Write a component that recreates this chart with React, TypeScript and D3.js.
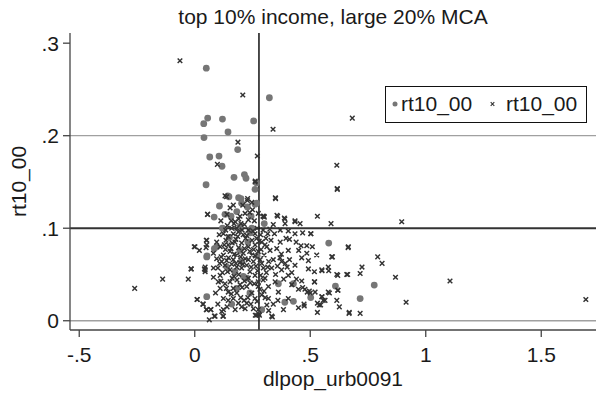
import React from "react";
import * as d3 from "d3";

const titleText = "top 10% income, large 20% MCA";
const xLabel = "dlpop_urb0091";
const yLabel = "rt10_00";
const legendLabels = ["rt10_00", "rt10_00"];
const xTicks = [-0.5, 0, 0.5, 1, 1.5];
const xTickLabels = ["-.5", "0", ".5", "1", "1.5"];
const yTicks = [0, 0.1, 0.2, 0.3];
const yTickLabels = ["0", ".1", ".2", ".3"];
const xRefLine = 0.278;
const yRefLines = [0, 0.1, 0.2];

// series 1: circles [dlpop_urb0091, rt10_00]
const circlePoints: [number, number][] = [
  [0.05,0.273],[0.323,0.241],[0.056,0.219],[0.12,0.218],[0.255,0.216],[0.039,0.213],[0.144,0.204],[0.04,0.198],
  [0.186,0.185],[0.065,0.177],[0.105,0.178],[0.118,0.167],[0.215,0.158],[0.222,0.154],[0.17,0.155],[0.049,0.147],
  [0.261,0.142],[0.148,0.134],[0.19,0.133],[0.2,0.132],[0.268,0.149],[0.143,0.135],[0.107,0.124],[0.203,0.127],
  [0.228,0.123],[0.261,0.126],[0.084,0.112],[0.157,0.113],[0.182,0.118],[0.244,0.113],[0.131,0.115],[0.247,0.1],
  [0.196,0.102],[0.085,0.078],[0.268,0.127],[0.301,0.105],[0.053,0.07],[0.095,0.08],[0.139,0.058],[0.174,0.053],
  [0.052,0.026],[0.182,0.035],[0.239,0.03],[0.16,0.018],[0.21,0.048],[0.427,0.021],[0.427,0.04],[0.24,0.095],
  [0.196,0.076],[0.58,0.084],[0.609,0.0375],[0.777,0.0386],[0.716,0.024],[0.502,0.025],[0.39,0.02],[0.362,0.04],
  [0.29,0.012],[0.203,0.064],[0.225,0.046],[0.052,0.069],[0.15,0.09],[0.23,0.085],[0.12,0.1],[0.27,0.07]
];

// series 2: crosses [dlpop_urb0091, rt10_00]
const crossPoints: [number, number][] = [
  [-0.064,0.281],[0.208,0.244],[0.339,0.207],[0.187,0.193],[0.271,0.178],[0.098,0.169],[0.262,0.151],[0.349,0.133],
  [0.138,0.134],[0.229,0.132],[0.682,0.219],[0.615,0.168],[0.617,0.142],[0.531,0.113],[0.59,0.105],[0.896,0.107],
  [0.467,0.095],[0.502,0.094],[0.665,0.08],[0.792,0.069],[0.811,0.062],[0.596,0.069],[0.528,0.071],[0.724,0.058],
  [0.716,0.051],[0.662,0.05],[0.615,0.05],[0.58,0.054],[0.551,0.054],[0.518,0.053],[0.869,0.047],[1.105,0.043],
  [0.519,0.042],[0.62,0.033],[0.583,0.03],[0.551,0.026],[0.556,0.022],[0.615,0.022],[0.626,0.015],[0.545,0.017],
  [0.531,0.019],[0.915,0.02],[1.693,0.023],[0.531,0.009],[0.669,0.009],[0.716,0.008],[0.467,0.036],[0.487,0.031],
  [0.473,0.018],[0.5,0.03],
  [-0.26,0.035],[-0.139,0.045],[-0.028,0.045],[-0.015,0.056],[-0.002,0.08],[0.02,0.076],[0.056,0.115],[0.01,0.023],
  [0.035,0.018],[0.05,0.012],[0.069,0.012],[0.063,0.001],[0.085,0.005],[0.117,0.01],[0.122,0.005],[0.042,0.056],
  [0.045,0.053],[0.049,0.079],[0.05,0.087],[0.081,0.057],[0.106,0.093],[0.262,0.006],[0.28,0.006],[0.336,0.004],
  [0.35,0.132],[0.617,0.143],[0.301,0.112],[0.359,0.113],[0.388,0.111],[0.391,0.105],[0.434,0.108],[0.456,0.105],
  [0.405,0.097],[0.434,0.094],[0.503,0.094],[0.395,0.089],[0.439,0.085],[0.46,0.081],[0.485,0.081],
  [0.509,0.08],[0.664,0.079],[0.405,0.076],[0.45,0.076],[0.485,0.073],[0.593,0.069],[0.369,0.068],
  [0.316,0.094],[0.33,0.087],[0.304,0.082],[0.326,0.076],[0.296,0.113],[0.356,0.114],[0.39,0.11],
  [0.41,0.066],[0.434,0.06],[0.463,0.068],[0.492,0.065],[0.492,0.056],[0.55,0.055],[0.578,0.058],
  [0.619,0.049],[0.658,0.05],[0.518,0.042],[0.463,0.043],[0.449,0.034],[0.477,0.034],[0.496,0.032],[0.521,0.031],
  [0.55,0.026],[0.564,0.022],[0.578,0.031],[0.619,0.033],[0.539,0.017],[0.668,0.008],[0.474,0.016],
  [0.449,0.014],[0.384,0.012],[0.34,0.018],[0.333,0.005],[0.278,0.007],[0.405,0.024],[0.362,0.031],[0.319,0.024],
  [0.29,0.028],[0.405,0.049],[0.376,0.055],[0.333,0.057],[0.304,0.046],[0.348,0.042],[0.319,0.037],[0.275,0.037],
  [0.42,0.039],[0.376,0.064],
  [0.131,0.135],[0.055,0.115],[0.113,0.108],[0.153,0.122],[0.167,0.125],[0.208,0.125],[0.228,0.13],[0.247,0.128],
  [0.261,0.15],[0.275,0.116],[0.3,0.113],[0.218,0.116],[0.232,0.109],[0.17,0.105],[0.141,0.103],[0.124,0.094],
  [0.145,0.091],[0.167,0.094],[0.189,0.096],[0.21,0.093],[0.232,0.098],[0.261,0.094],[0.268,0.089],[0.052,0.087],
  [0.052,0.082],[0.001,0.08],[0.095,0.085],[0.11,0.08],[0.145,0.082],[0.174,0.085],[0.203,0.084],
  [0.232,0.08],[0.261,0.082],[0.29,0.085],[0.312,0.08],[0.153,0.075],[0.182,0.071],[0.21,0.073],[0.247,0.071],
  [0.275,0.075],[0.124,0.071],[0.081,0.073],
  [-0.016,0.056],[0.045,0.055],[0.045,0.058],[0.011,0.023],[0.037,0.018],[0.052,0.012],[0.07,0.012],[0.088,0.005],
  [0.124,0.012],[0.124,0.005],[0.081,0.047],[0.102,0.042],[0.11,0.035],[0.131,0.04],[0.153,0.042],
  [0.124,0.024],[0.145,0.022],[0.167,0.024],[0.189,0.019],[0.203,0.015],[0.225,0.019],[0.218,0.013],[0.254,0.013],
  [0.275,0.012],[0.268,0.006],[0.261,0.024],[0.247,0.03],[0.182,0.03],[0.145,0.031],[0.11,0.049],[0.131,0.06],
  [0.153,0.055],[0.182,0.058],[0.203,0.057],[0.225,0.06],[0.239,0.053],[0.261,0.049],[0.275,0.042],[0.225,0.037],
  [0.196,0.039],[0.167,0.035],[0.095,0.067],[0.117,0.064],[0.167,0.066],[0.218,0.067],[0.254,0.064],[0.283,0.066],
  [0.297,0.057],[0.312,0.017],
  [0.296,0.113],[0.434,0.107],[0.14,0.115],[0.19,0.11],[0.25,0.12],[0.16,0.1],[0.2,0.105],[0.27,0.1],
  [0.135,0.087],[0.178,0.088],[0.22,0.089],[0.248,0.087],[0.285,0.093],[0.157,0.078],[0.19,0.079],[0.215,0.078],
  [0.255,0.077],[0.3,0.071],[0.138,0.065],[0.16,0.061],[0.195,0.063],[0.232,0.066],[0.265,0.059],[0.29,0.062],
  [0.1,0.057],[0.12,0.052],[0.17,0.048],[0.19,0.05],[0.215,0.043],[0.24,0.041],[0.285,0.049],[0.31,0.052],
  [0.34,0.066],[0.355,0.078],[0.345,0.094],[0.37,0.085],[0.32,0.064],[0.35,0.05],[0.385,0.045],[0.4,0.058],
  [0.09,0.03],[0.1,0.018],[0.14,0.015],[0.175,0.012],[0.23,0.025],[0.3,0.032],[0.32,0.011],[0.36,0.022],
  [0.128,0.082],[0.162,0.084],[0.186,0.091],[0.205,0.098],[0.226,0.092],[0.252,0.097],[0.279,0.086],[0.296,0.098],
  [0.133,0.077],[0.171,0.072],[0.199,0.069],[0.238,0.075],[0.262,0.07],[0.287,0.077],[0.308,0.089],[0.325,0.099],
  [0.114,0.069],[0.146,0.068],[0.178,0.062],[0.208,0.061],[0.244,0.058],[0.272,0.054],[0.296,0.044],[0.316,0.058],
  [0.108,0.062],[0.142,0.053],[0.162,0.046],[0.183,0.044],[0.205,0.036],[0.232,0.046],[0.258,0.04],[0.282,0.034],
  [0.113,0.043],[0.137,0.035],[0.158,0.029],[0.199,0.025],[0.214,0.022],[0.243,0.018],[0.27,0.021],[0.305,0.025],
  [0.175,0.107],[0.196,0.113],[0.215,0.104],[0.238,0.117],[0.258,0.108],[0.182,0.1],[0.158,0.108],[0.134,0.098],
  [0.34,0.104],[0.37,0.098],[0.41,0.088],[0.375,0.072],[0.392,0.062],[0.358,0.059],[0.42,0.052],[0.44,0.045]
];

const W = 599;
const H = 393;
const plot = { left: 70, right: 596, top: 33, bottom: 330 };

export default function App() {
  const x = d3.scaleLinear().domain([-0.54, 1.737]).range([plot.left, plot.right]);
  const y = d3.scaleLinear().domain([-0.01, 0.311]).range([plot.bottom, plot.top]);
  const font = "'Liberation Sans', Arial, Helvetica, sans-serif";
  const crossPath = (s: number) => `M${-s},${-s}L${s},${s}M${-s},${s}L${s},${-s}`;
  const midY = (plot.top + plot.bottom) / 2;
  const midX = (plot.left + plot.right) / 2;
  const fs = 21;

  return (
    <svg width={W} height={H} style={{ position: "absolute", left: 0, top: 0, background: "#fff" }} fontFamily={font}>
      <rect x={0} y={0} width={W} height={H} fill="#fff" />
      <text x={midX} y={24} textAnchor="middle" fontSize={fs} fill="#1a1a1a">{titleText}</text>

      {/* reference lines */}
      {yRefLines.map((v) => (
        <line key={"h" + v} x1={plot.left} x2={plot.right} y1={y(v)} y2={y(v)}
          stroke={v === 0.1 ? "#333" : "#a0a0a0"} strokeWidth={v === 0.1 ? 2 : 1.3} />
      ))}
      <line x1={x(xRefLine)} x2={x(xRefLine)} y1={plot.top} y2={plot.bottom} stroke="#111" strokeWidth={1.5} />

      {/* axes */}
      <line x1={plot.left} x2={plot.left} y1={plot.top} y2={plot.bottom} stroke="#444" strokeWidth={1.3} />
      <line x1={plot.left} x2={plot.right} y1={plot.bottom} y2={plot.bottom} stroke="#444" strokeWidth={1.3} />
      {yTicks.map((t, i) => (
        <g key={"yt" + t}>
          <line x1={plot.left - 7} x2={plot.left} y1={y(t)} y2={y(t)} stroke="#444" strokeWidth={1.3} />
          <text x={59} y={y(t) + 7.5} textAnchor="end" fontSize={fs} fill="#1a1a1a">{yTickLabels[i]}</text>
        </g>
      ))}
      {xTicks.map((t, i) => (
        <g key={"xt" + t}>
          <line x1={x(t)} x2={x(t)} y1={plot.bottom} y2={plot.bottom + 7} stroke="#444" strokeWidth={1.3} />
          <text x={x(t)} y={362} textAnchor="middle" fontSize={fs} fill="#1a1a1a">{xTickLabels[i]}</text>
        </g>
      ))}
      <text x={midX} y={386} textAnchor="middle" fontSize={fs} fill="#1a1a1a">{xLabel}</text>
      <text transform={`translate(26,${midY}) rotate(-90)`} textAnchor="middle" fontSize={fs} fill="#1a1a1a">{yLabel}</text>

      {/* series */}
      {circlePoints.map((p, i) => (
        <circle key={"c" + i} cx={x(p[0])} cy={y(p[1])} r={3.4} fill="#767676" />
      ))}
      {crossPoints.map((p, i) => (
        <path key={"x" + i} transform={`translate(${x(p[0])},${y(p[1])})`} d={crossPath(2.3)}
          stroke="#333" strokeWidth={1.45} fill="none" />
      ))}

      {/* legend */}
      <rect x={385.5} y={86.5} width={201} height={36} fill="#fff" stroke="#111" strokeWidth={1} />
      <circle cx={395} cy={104} r={2.5} fill="#767676" />
      <text x={401} y={111} fontSize={fs} fill="#1a1a1a">{legendLabels[0]}</text>
      <path transform="translate(492.5,104)" d={crossPath(1.8)} stroke="#333" strokeWidth={1.1} fill="none" />
      <text x={506} y={111} fontSize={fs} fill="#1a1a1a">{legendLabels[1]}</text>
    </svg>
  );
}
